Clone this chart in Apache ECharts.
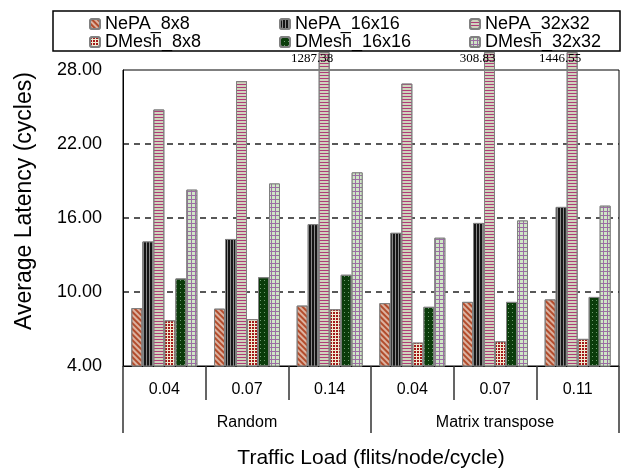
<!DOCTYPE html>
<html>
<head>
<meta charset="utf-8">
<script src="https://cdn.jsdelivr.net/npm/echarts@6/dist/echarts.min.js"></script>
<style>html,body{margin:0;padding:0;background:#fff}#c{width:629px;height:468px}</style>
</head>
<body>
<div id="c"></div>
<script>
const categories = ['0.04', '0.07', '0.14', '0.04', '0.07', '0.11'];
const groups = ['Random', 'Matrix transpose'];
const seriesNames = ['NePA_8x8', 'NePA_16x16', 'NePA_32x32', 'DMesh_8x8', 'DMesh_16x16', 'DMesh_32x32'];
const nepa8 = [8.7, 8.65, 8.9, 9.1, 9.2, 9.4];
const nepa16 = [14.1, 14.3, 15.5, 14.8, 15.6, 16.9];
const nepa32 = [24.8, 27.1, 1287.38, 26.9, 308.83, 1446.55];
const dmesh8 = [7.7, 7.8, 8.6, 5.9, 6.0, 6.2];
const dmesh16 = [11.1, 11.2, 11.4, 8.8, 9.2, 9.6];
const dmesh32 = [18.3, 18.8, 19.7, 14.4, 15.8, 17.0];
const yMin = 4, yMax = 28, yInterval = 6;
const overflowTop = 29.45; // off-scale bars are drawn broken just above the frame

const FONT = 'Liberation Sans';
const styles = [
  { color: '#dcb2a0', decal: { symbol: 'rect', symbolSize: 1, color: '#b24c2c', dashArrayX: [2, 2], dashArrayY: [1, 0], rotation: -Math.PI / 4 } },
  { color: '#8a8a8a', decal: { symbol: 'rect', symbolSize: 1, color: '#151515', dashArrayX: [2, 1], dashArrayY: [1, 0] } },
  { color: '#cfd4bd', decal: { symbol: 'rect', symbolSize: 1, color: '#b03c78', dashArrayX: [1, 0], dashArrayY: [1, 2] } },
  { color: '#f1ecd2', decal: { symbol: 'rect', symbolSize: 1, color: '#a31818', dashArrayX: [2, 1], dashArrayY: [2, 1] } },
  { color: '#0b3c0b', decal: { symbol: 'rect', symbolSize: 1, color: '#6f9c6f', dashArrayX: [1, 3], dashArrayY: [1, 3] } },
  { color: '#9c6ea4', decal: { symbol: 'rect', symbolSize: 1, color: '#cfe7c6', dashArrayX: [3, 1], dashArrayY: [3, 1] } }
];
const allData = [nepa8, nepa16, nepa32, dmesh8, dmesh16, dmesh32];

const series = seriesNames.map((n, i) => ({
  name: n,
  type: 'bar',
  xAxisIndex: 0,
  barWidth: 11,
  barGap: '0%',
  stack: 's' + i,
  clip: true,
  data: allData[i].map(v => Math.min(v, yMax)),
  itemStyle: { color: styles[i].color, decal: styles[i].decal, borderColor: '#808080', borderWidth: 1 }
}));
// overflow part of off-scale bars, stacked on the same column, with the real value as label
allData.forEach((arr, i) => {
  if (!arr.some(v => v > yMax)) return;
  series.push({
    name: seriesNames[i] + ' (off-scale)',
    type: 'bar',
    xAxisIndex: 0,
    barWidth: 11,
    stack: 's' + i,
    clip: false,
    data: arr.map(v => v > yMax ? {
      value: overflowTop - yMax,
      label: {
        show: true, position: 'insideTop', distance: 0, offset: [-12, 0],
        formatter: v.toFixed(2), fontFamily: 'Liberation Serif', fontSize: 13, color: '#000'
      }
    } : '-'),
    itemStyle: { color: styles[i].color, decal: styles[i].decal, borderColor: '#808080', borderWidth: 1 }
  });
});

const chart = echarts.init(document.getElementById('c'), null, { renderer: 'canvas' });
chart.setOption({
  animation: false,
  backgroundColor: '#fff',
  textStyle: { fontFamily: FONT },
  grid: { left: 123, top: 70, right: 10, bottom: 102, show: true, borderColor: '#000', borderWidth: 1, backgroundColor: 'transparent' },
  legend: {
    data: seriesNames,
    left: 89, top: 15, width: 580, padding: 0,
    itemWidth: 10, itemHeight: 10, itemGap: 0,
    textStyle: { fontFamily: FONT, fontSize: 18, color: '#000', width: 174, lineHeight: 18 }
  },
  xAxis: [
    {
      type: 'category', data: categories, position: 'bottom', offset: 0,
      axisLine: { show: true, lineStyle: { color: '#000', width: 1 } },
      axisTick: { show: true, length: 34, lineStyle: { color: '#333', width: 1.5 } },
      axisLabel: { margin: 16, fontFamily: FONT, fontSize: 16, color: '#000' },
      splitLine: { show: false }
    },
    {
      type: 'category', data: groups, position: 'bottom', offset: 0,
      axisLine: { show: false },
      axisTick: { show: true, length: 67, lineStyle: { color: '#333', width: 1.5 } },
      axisLabel: { margin: 49, fontFamily: FONT, fontSize: 16, color: '#000' },
      splitLine: { show: false }
    }
  ],
  yAxis: {
    type: 'value', min: yMin, max: yMax, interval: yInterval,
    axisLine: { show: true, lineStyle: { color: '#000', width: 1 } },
    axisTick: { show: false },
    axisLabel: { margin: 21, fontFamily: FONT, fontSize: 18, color: '#000', formatter: v => v.toFixed(2) },
    splitLine: { show: true, lineStyle: { color: ['rgba(0,0,0,0)', '#222', '#222', '#222', 'rgba(0,0,0,0)'], width: 1.5, type: [6, 5] } }
  },
  graphic: [
    { type: 'rect', shape: { x: 53, y: 11, width: 567, height: 40 }, style: { fill: 'none', stroke: '#000', lineWidth: 1.5 }, z: 100 },
    { type: 'text', x: 25, y: 201, rotation: Math.PI / 2, style: { text: 'Average Latency (cycles)', fontFamily: FONT, fontSize: 23, fill: '#000', align: 'center', verticalAlign: 'middle' } },
    { type: 'text', x: 371, y: 458, style: { text: 'Traffic Load (flits/node/cycle)', fontFamily: FONT, fontSize: 21, fill: '#000', align: 'center', verticalAlign: 'middle' } }
  ],
  series: series
});
</script>
</body>
</html>
